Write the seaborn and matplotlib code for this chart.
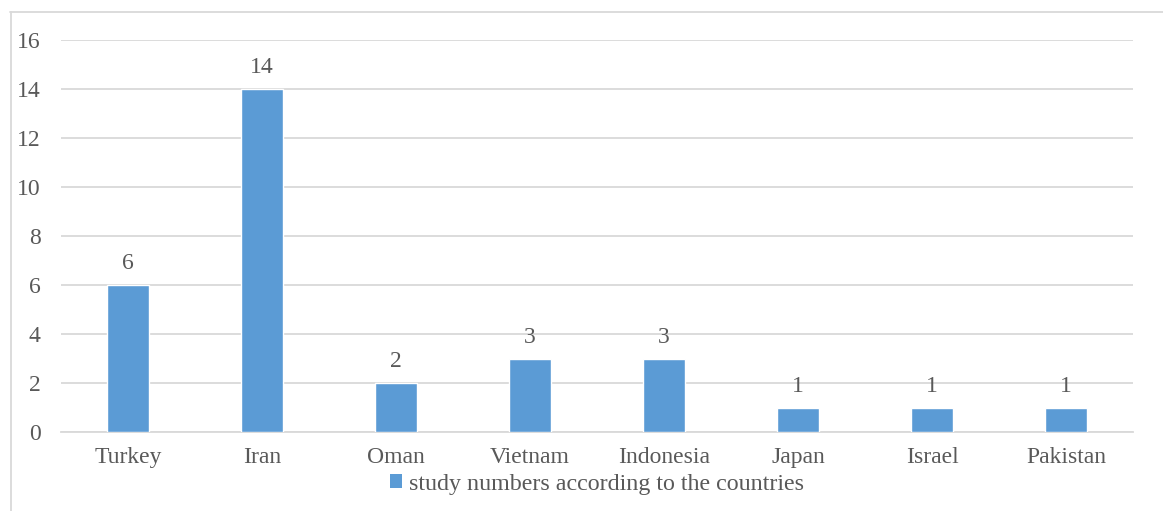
import pandas as pd
import matplotlib.pyplot as plt
import seaborn as sns
from matplotlib.lines import Line2D
from matplotlib.patches import Patch

# Study counts per country
countries = ['Turkey', 'Iran', 'Oman', 'Vietnam', 'Indonesia', 'Japan', 'Israel', 'Pakistan']
counts = [6, 14, 2, 3, 3, 1, 1, 1]
series_name = 'study numbers according to the countries'

df = pd.DataFrame({'country': countries, 'count': counts})

sns.set_style('white')
plt.rcParams['font.family'] = ['Liberation Serif', 'DejaVu Serif']

bar_color = '#5B9BD5'
text_color = '#595959'
grid_color = '#D9D9D9'
fs = 17

W, H = 1163, 511
fig = plt.figure(figsize=(W / 100, H / 100), dpi=100)
ax = fig.add_axes([61 / W, 1 - 432 / H, (1133 - 61) / W, (432 - 40) / H])

sns.barplot(data=df, x='country', y='count', color=bar_color, width=0.31,
            saturation=1, ax=ax, zorder=3)

ax.set_ylim(0, 16)
ax.set_xlim(-0.5, len(countries) - 0.5)
ax.set_yticks(range(0, 17, 2))
ax.yaxis.grid(True, color=grid_color, linewidth=1.3, zorder=0)
ax.set_axisbelow(True)
for s in ['top', 'right', 'left']:
    ax.spines[s].set_visible(False)
ax.spines['bottom'].set_color(grid_color)
ax.spines['bottom'].set_linewidth(1.3)
ax.tick_params(axis='both', length=0, labelsize=fs, colors=text_color)
ax.tick_params(axis='y', pad=14.5)
ax.tick_params(axis='x', pad=11)
ax.set_xlabel('')
ax.set_ylabel('')

# value labels
for i, v in enumerate(counts):
    ax.text(i, v + 0.65, str(v), ha='center', va='baseline', fontsize=fs, color=text_color)

# legend, centred under the plot area
handle = Patch(facecolor=bar_color, edgecolor='none')
fig.legend([handle], [series_name], loc='center', bbox_to_anchor=(597 / W, 1 - 484 / H),
           frameon=False, fontsize=17.3, handlelength=0.5, handleheight=0.5,
           handletextpad=0.3, labelcolor=text_color)

# chart area border (top and left visible)
fig.add_artist(Line2D([10 / W, 1], [1 - 12.5 / H, 1 - 12.5 / H], color=grid_color, linewidth=1.3))
fig.add_artist(Line2D([10.5 / W, 10.5 / W], [0, 1 - 12.5 / H], color=grid_color, linewidth=1.3))

fig.savefig('out.png', dpi=100)
